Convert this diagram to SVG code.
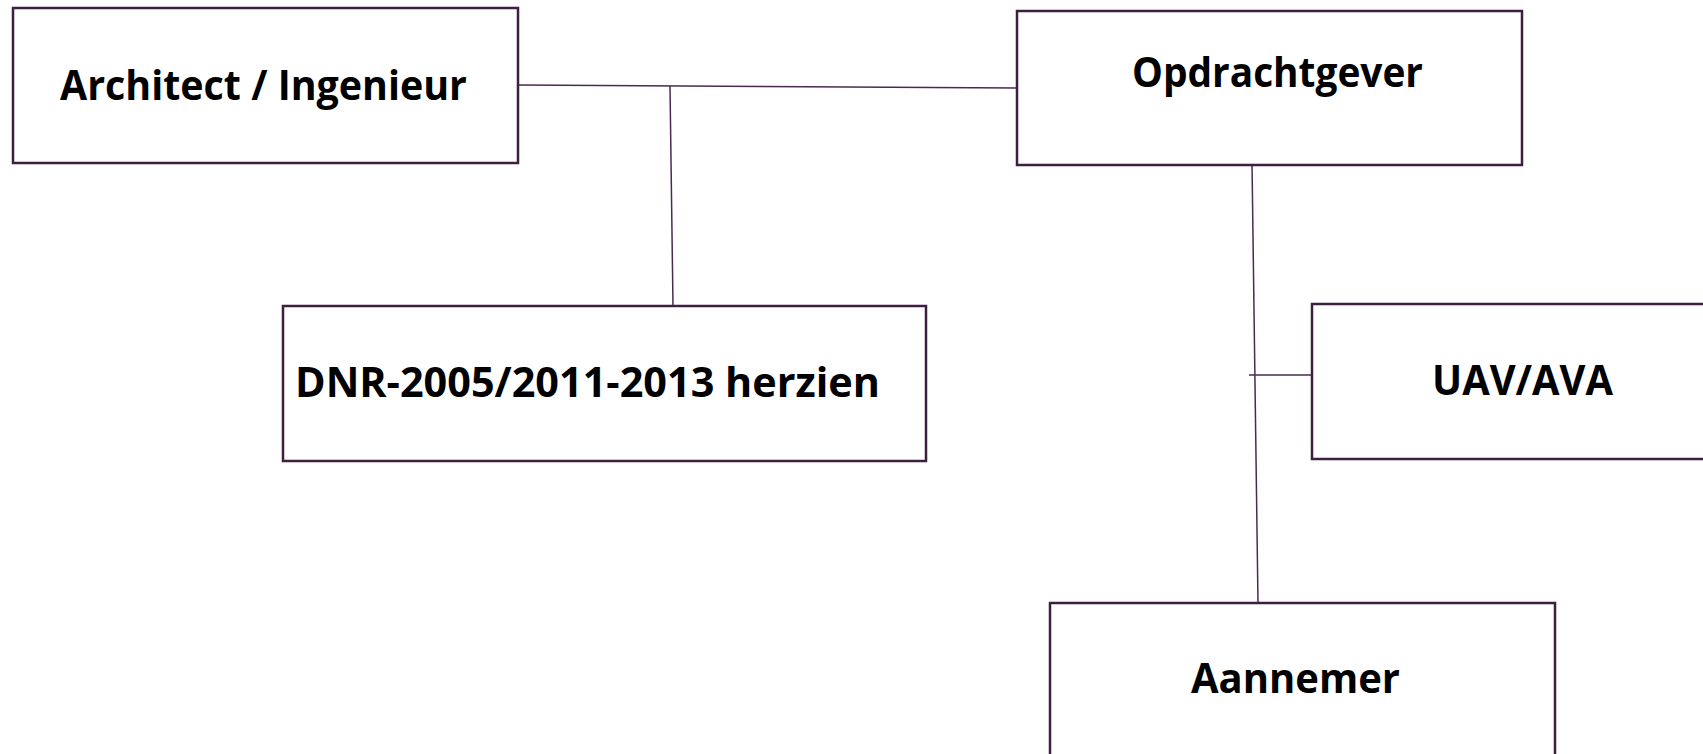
<svg xmlns="http://www.w3.org/2000/svg" width="1703" height="754" viewBox="0 0 1703 754">
<style>
.box{fill:#ffffff;stroke:#3f1f40;stroke-width:2.5}
.lbl{font-family:"Open Sans","Liberation Sans",sans-serif;font-weight:700;font-size:41px;fill:#000000}
.conn{stroke:#4a2a50;stroke-width:1.5;fill:none}
</style>
<rect x="0" y="0" width="1703" height="754" fill="#ffffff"/>
<g id="connectors">
<line class="conn" x1="518" y1="85" x2="1017" y2="88"/>
<line class="conn" x1="670" y1="86" x2="673" y2="306"/>
<line class="conn" x1="1252" y1="163" x2="1258" y2="603"/>
<line class="conn" x1="1249" y1="375" x2="1312" y2="375"/>
</g>
<g id="architect">
<rect class="box" x="13" y="8" width="505" height="155"/>
<text class="lbl" x="60" y="100" textLength="407" lengthAdjust="spacingAndGlyphs">Architect / Ingenieur</text>
</g>
<g id="opdrachtgever">
<rect class="box" x="1017" y="11" width="505" height="154"/>
<text class="lbl" x="1132" y="87" textLength="291" lengthAdjust="spacingAndGlyphs">Opdrachtgever</text>
</g>
<g id="dnr">
<rect class="box" x="283" y="306" width="643" height="155"/>
<text class="lbl" x="295" y="397" textLength="585" lengthAdjust="spacingAndGlyphs">DNR-2005/2011-2013 herzien</text>
</g>
<g id="uav">
<rect class="box" x="1312" y="304" width="400" height="155"/>
<text class="lbl" x="1432" y="395" textLength="181" lengthAdjust="spacingAndGlyphs">UAV/AVA</text>
</g>
<g id="aannemer">
<rect class="box" x="1050" y="603" width="505" height="160"/>
<text class="lbl" x="1191" y="693" textLength="209" lengthAdjust="spacingAndGlyphs">Aannemer</text>
</g>
</svg>
